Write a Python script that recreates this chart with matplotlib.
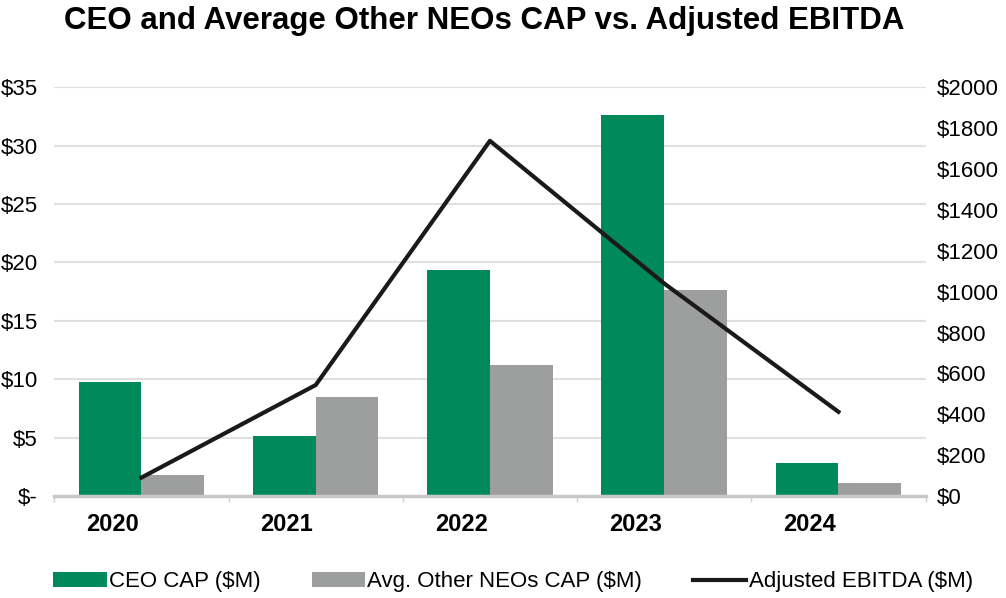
import numpy as np
import matplotlib
matplotlib.use('Agg')
import matplotlib.pyplot as plt
from matplotlib.ticker import FixedLocator

# data
years = ['2020', '2021', '2022', '2023', '2024']
ceo_cap = [9.8, 5.1, 19.35, 32.6, 2.8]
neo_cap = [1.8, 8.45, 11.2, 17.6, 1.1]
ebitda = [90, 543, 1738, 1040, 412]
left_ticks = [0, 5, 10, 15, 20, 25, 30, 35]
left_labels = ['$-', '$5', '$10', '$15', '$20', '$25', '$30', '$35']
right_ticks = [0, 200, 400, 600, 800, 1000, 1200, 1400, 1600, 1800, 2000]
right_labels = ['$' + str(v) for v in right_ticks]

green = '#00895a'
grey = '#9d9f9e'
plt.rcParams['font.family'] = ['Liberation Sans', 'DejaVu Sans']

fig = plt.figure(figsize=(10.06, 5.98), dpi=100)
ax = fig.add_axes([0.054, 0.1706, 0.866, 0.6834])

x = np.arange(len(years))
w = 0.36
ax.bar(x - w/2, ceo_cap, w, color=green, label='CEO CAP ($M)', zorder=2)
ax.bar(x + w/2, neo_cap, w, color=grey, label='Avg. Other NEOs CAP ($M)', zorder=2)

ax.set_xlim(-0.5, len(years) - 0.5)
ax.set_ylim(0, 35)
ax.set_yticks(left_ticks)
ax.set_yticklabels(left_labels, fontsize=16)
# year labels sit a little left of the group centres in the original
ax.set_xticks(x - 0.165)
ax.set_xticklabels(years, fontsize=17, fontweight='bold')
ax.xaxis.set_minor_locator(FixedLocator(np.arange(-0.5, len(years), 1.0)))
ax.tick_params(axis='x', which='major', length=0, pad=12)
ax.tick_params(axis='x', which='minor', length=4, color='#d0d0d0', width=1)
ax.tick_params(axis='y', length=0, pad=12)
ax.grid(axis='y', color='#e0e0e0', linewidth=1.5, zorder=0)
for s in ['top', 'right', 'left']:
    ax.spines[s].set_visible(False)
ax.spines['bottom'].set_color('#c8c8c8')
ax.spines['bottom'].set_linewidth(2.5)

ax2 = ax.twinx()
ax2.plot(x, ebitda, color='#1a1a1a', linewidth=3, label='Adjusted EBITDA ($M)', zorder=3)
ax2.set_ylim(0, 2000)
ax2.set_yticks(right_ticks)
ax2.set_yticklabels(right_labels, fontsize=16)
ax2.tick_params(axis='y', length=0, pad=8)
for s in ['top', 'right', 'left', 'bottom']:
    ax2.spines[s].set_visible(False)

fig.suptitle('CEO and Average Other NEOs CAP vs. Adjusted EBITDA', x=0.481, y=0.99,
             fontsize=22.5, fontweight='bold', va='top')

h1, l1 = ax.get_legend_handles_labels()
h2, l2 = ax2.get_legend_handles_labels()
fig.legend(h1 + h2, l1 + l2, loc='center', bbox_to_anchor=(0.51, 0.027), ncol=3,
           frameon=False, prop={'size': 16},
           handlelength=2.4, handleheight=0.6, handletextpad=0.1, columnspacing=2.3)

fig.savefig('out.png', dpi=100)
